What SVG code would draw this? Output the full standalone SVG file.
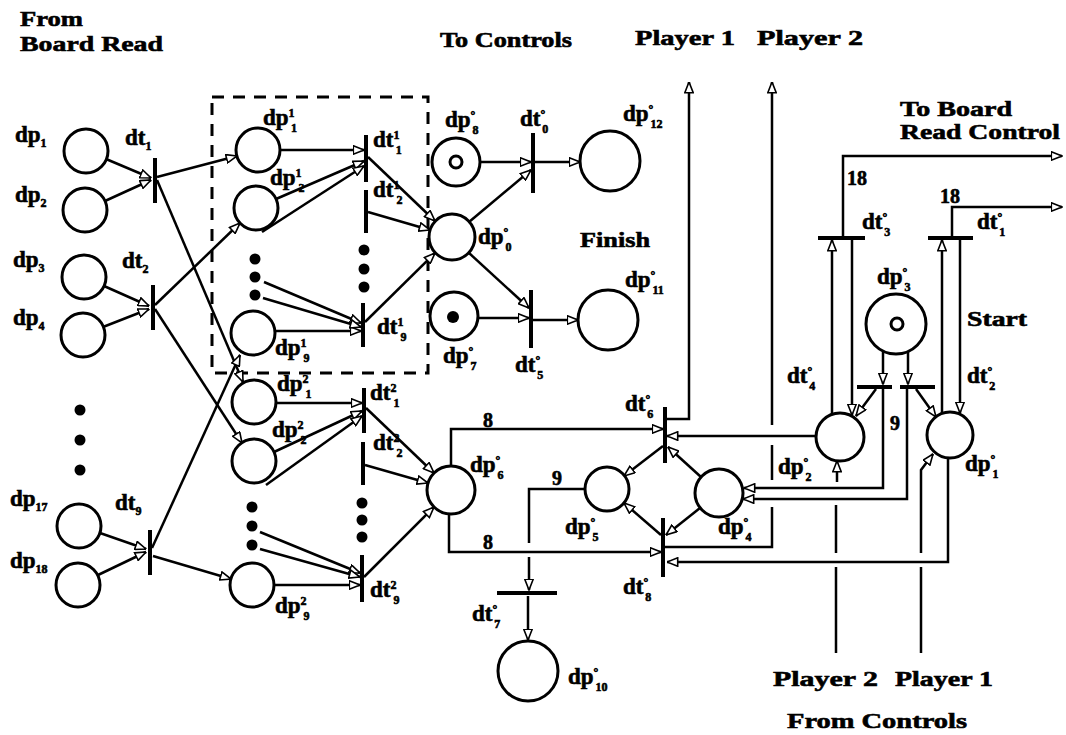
<svg xmlns="http://www.w3.org/2000/svg" width="1066" height="735" viewBox="0 0 1066 735">
<defs>
<marker id="ah" viewBox="0 0 12 10" refX="11.5" refY="5" markerWidth="12" markerHeight="10" markerUnits="userSpaceOnUse" orient="auto"><path d="M0.8,0.8 L11.5,5 L0.8,9.2 z" fill="#fff" stroke="#000" stroke-width="1.6"/></marker>
<style>
.t{font-family:"Liberation Serif","DejaVu Serif",serif;font-weight:bold;fill:#000;stroke:#000;stroke-width:0.6}
.l{font-size:23px}
.big{font-size:22px}
.s{font-size:12px}
.w{font-size:20px}
.p{fill:#fff;stroke:#000;stroke-width:3}
.b{fill:#000}
.d{fill:#000}
.c{fill:none;stroke:#000;stroke-width:2.5}
.a{marker-end:url(#ah)}
</style>
</defs>
<rect width="1066" height="735" fill="#fff"/>

<g id="titles" class="t big">
<text x="20" y="26" textLength="63" lengthAdjust="spacingAndGlyphs">From</text>
<text x="20" y="51" textLength="143" lengthAdjust="spacingAndGlyphs">Board Read</text>
<text x="440" y="47" textLength="132" lengthAdjust="spacingAndGlyphs">To Controls</text>
<text x="635" y="45" textLength="100" lengthAdjust="spacingAndGlyphs">Player 1</text>
<text x="757" y="45" textLength="106" lengthAdjust="spacingAndGlyphs">Player 2</text>
<text x="900" y="116" textLength="112" lengthAdjust="spacingAndGlyphs">To Board</text>
<text x="900" y="139" textLength="160" lengthAdjust="spacingAndGlyphs">Read Control</text>
<text x="580" y="247" textLength="70" lengthAdjust="spacingAndGlyphs">Finish</text>
<text x="967" y="326" textLength="60" lengthAdjust="spacingAndGlyphs">Start</text>
<text x="773" y="686" textLength="105" lengthAdjust="spacingAndGlyphs">Player 2</text>
<text x="895" y="686" textLength="98" lengthAdjust="spacingAndGlyphs">Player 1</text>
<text x="787" y="728" textLength="180" lengthAdjust="spacingAndGlyphs">From Controls</text>
</g>

<rect id="subnet-box" x="212" y="97" width="216" height="276" fill="none" stroke="#000" stroke-width="3" stroke-dasharray="12 9"/>

<g id="connectors" class="c">
<path class="a" d="M106,159 L151,178"/>
<path class="a" d="M105,201 L151,180"/>
<path class="a" d="M157,177 L237,156"/>
<path class="a" d="M157,180 L243,382"/>
<path class="a" d="M104,286 L149,306"/>
<path class="a" d="M103,327 L149,309"/>
<path class="a" d="M155,305 L240,223"/>
<path class="a" d="M155,309 L242,443"/>
<path class="a" d="M100,533 L146,549"/>
<path class="a" d="M98,575 L146,552"/>
<path class="a" d="M152,548 L240,355"/>
<path class="a" d="M153,556 L231,579"/>

<path class="a" d="M280,150 L364,150"/>
<path class="a" d="M276,199 L364,161"/>
<path class="a" d="M262,232 L364,166"/>
<path class="a" d="M275,331 L361,331"/>
<path class="a" d="M264,282 L361,323"/>
<path class="a" d="M263,298 L361,327"/>
<path class="a" d="M368,157 L435,221"/>
<path class="a" d="M368,212 L430,230"/>
<path class="a" d="M365,322 L435,253"/>

<path class="a" d="M480,162 L531,162"/>
<path class="a" d="M469,222 L531,170"/>
<path class="a" d="M535,162 L580,162"/>
<path class="a" d="M469,253 L529,308"/>
<path class="a" d="M478,318 L529,318"/>
<path class="a" d="M533,320 L578,320"/>

<path class="a" d="M276,403 L362,403"/>
<path class="a" d="M274,452 L362,411"/>
<path class="a" d="M266,485 L362,416"/>
<path class="a" d="M274,585 L360,585"/>
<path class="a" d="M260,532 L360,573"/>
<path class="a" d="M260,549 L360,577"/>
<path class="a" d="M366,408 L434,473"/>
<path class="a" d="M365,465 L428,483"/>
<path class="a" d="M364,577 L434,507"/>

<path class="a" d="M451,466 V429 H663"/>
<path class="a" d="M449,514 V552 H661"/>
<path class="a" d="M816,436 H667"/>
<path class="a" d="M701,477 L668,447"/>
<path class="a" d="M663,446 L624,476"/>
<path class="a" d="M700,508 L666,535"/>
<path class="a" d="M661,535 L624,503"/>
<path class="a" d="M665,419 H689 V82"/>
<path class="a" d="M665,547 H772 V507 M772,480 V445 M772,425 V82"/>
<path class="a" d="M948,458 V562 H667"/>
<path class="a" d="M836,653 V567 M836,553 V505 M837,482 V461"/>
<path class="a" d="M921,653 V567 M921,553 V470 L933,454"/>
<path class="a" d="M585,489 H529 V543 M529,557 V590"/>
<path class="a" d="M528,596 V640"/>
<path class="a" d="M883,388 V488 H744"/>
<path class="a" d="M907,388 V499 H743"/>
<path class="a" d="M883,352 V384"/>
<path class="a" d="M908,352 V384"/>
<path class="a" d="M876,389 L856,416"/>
<path class="a" d="M916,389 L936,417"/>
<path class="a" d="M832,414 V240"/>
<path class="a" d="M852,240 V415"/>
<path class="a" d="M942,413 V240"/>
<path class="a" d="M960,240 V413"/>
<path class="a" d="M843,236 V156 H1062"/>
<path class="a" d="M952,236 V207 H1062"/>
</g>

<g id="arc-weights" class="t w">
<text x="847" y="185">18</text>
<text x="940" y="203">18</text>
<text x="890" y="430">9</text>
<text x="552" y="485">9</text>
<text x="483" y="427">8</text>
<text x="483" y="549">8</text>
</g>

<g id="dp1"><circle class="p" cx="86" cy="151" r="22"/><text class="t l" x="15" y="142">dp<tspan class="s" dy="5">1</tspan></text></g>
<g id="dp2"><circle class="p" cx="85" cy="210" r="22"/><text class="t l" x="15" y="202">dp<tspan class="s" dy="5">2</tspan></text></g>
<g id="dp3"><circle class="p" cx="84" cy="277" r="22"/><text class="t l" x="13" y="267">dp<tspan class="s" dy="5">3</tspan></text></g>
<g id="dp4"><circle class="p" cx="83" cy="335" r="22"/><text class="t l" x="13" y="325">dp<tspan class="s" dy="5">4</tspan></text></g>
<g id="dp-dots"><circle class="d" cx="80" cy="410" r="5.5"/><circle class="d" cx="80" cy="440" r="5.5"/><circle class="d" cx="80" cy="470" r="5.5"/></g>
<g id="dp17"><circle class="p" cx="79" cy="526" r="22"/><text class="t l" x="10" y="506">dp<tspan class="s" dy="5">17</tspan></text></g>
<g id="dp18"><circle class="p" cx="78" cy="585" r="22"/><text class="t l" x="10" y="568">dp<tspan class="s" dy="5">18</tspan></text></g>

<g id="dt1"><rect class="b" x="153" y="158" width="4" height="45"/><text class="t l" x="125" y="145">dt<tspan class="s" dy="5">1</tspan></text></g>
<g id="dt2"><rect class="b" x="151" y="285" width="4" height="45"/><text class="t l" x="122" y="268">dt<tspan class="s" dy="5">2</tspan></text></g>
<g id="dt9"><rect class="b" x="148" y="530" width="4" height="45"/><text class="t l" x="115" y="510">dt<tspan class="s" dy="5">9</tspan></text></g>

<g id="dp1_1"><circle class="p" cx="258" cy="150" r="22"/><text class="t l" x="263" y="125">dp<tspan class="s" dy="-8">1</tspan><tspan class="s" dx="-3" dy="15">1</tspan></text></g>
<g id="dp1_2"><circle class="p" cx="256" cy="208" r="22"/><text class="t l" x="270" y="185">dp<tspan class="s" dy="-8">1</tspan><tspan class="s" dx="-3" dy="15">2</tspan></text></g>
<g id="dp1-dots"><circle class="d" cx="255" cy="259" r="5.5"/><circle class="d" cx="255" cy="277" r="5.5"/><circle class="d" cx="255" cy="295" r="5.5"/></g>
<g id="dp1_9"><circle class="p" cx="253" cy="333" r="22"/><text class="t l" x="275" y="355">dp<tspan class="s" dy="-8">1</tspan><tspan class="s" dx="-3" dy="15">9</tspan></text></g>
<g id="dp2_1"><circle class="p" cx="254" cy="402" r="22"/><text class="t l" x="277" y="391">dp<tspan class="s" dy="-8">2</tspan><tspan class="s" dx="-3" dy="15">1</tspan></text></g>
<g id="dp2_2"><circle class="p" cx="254" cy="461" r="22"/><text class="t l" x="272" y="437">dp<tspan class="s" dy="-8">2</tspan><tspan class="s" dx="-3" dy="15">2</tspan></text></g>
<g id="dp2-dots"><circle class="d" cx="252" cy="507" r="5.5"/><circle class="d" cx="252" cy="526" r="5.5"/><circle class="d" cx="252" cy="545" r="5.5"/></g>
<g id="dp2_9"><circle class="p" cx="252" cy="585" r="22"/><text class="t l" x="275" y="613">dp<tspan class="s" dy="-8">2</tspan><tspan class="s" dx="-3" dy="15">9</tspan></text></g>

<g id="dt1_1"><rect class="b" x="364" y="135" width="4" height="47"/><text class="t l" x="373" y="147">dt<tspan class="s" dy="-8">1</tspan><tspan class="s" dx="-3" dy="15">1</tspan></text></g>
<g id="dt1_2"><rect class="b" x="364" y="190" width="4" height="43"/><text class="t l" x="373" y="197">dt<tspan class="s" dy="-8">1</tspan><tspan class="s" dx="-3" dy="15">2</tspan></text></g>
<g id="dt1-dots"><circle class="d" cx="364" cy="250" r="5.5"/><circle class="d" cx="364" cy="269" r="5.5"/><circle class="d" cx="364" cy="287" r="5.5"/></g>
<g id="dt1_9"><rect class="b" x="361" y="303" width="4" height="44"/><text class="t l" x="377" y="334">dt<tspan class="s" dy="-8">1</tspan><tspan class="s" dx="-3" dy="15">9</tspan></text></g>
<g id="dt2_1"><rect class="b" x="362" y="388" width="4" height="45"/><text class="t l" x="370" y="400">dt<tspan class="s" dy="-8">2</tspan><tspan class="s" dx="-3" dy="15">1</tspan></text></g>
<g id="dt2_2"><rect class="b" x="361" y="442" width="4" height="43"/><text class="t l" x="373" y="450">dt<tspan class="s" dy="-8">2</tspan><tspan class="s" dx="-3" dy="15">2</tspan></text></g>
<g id="dt2-dots"><circle class="d" cx="362" cy="503" r="5.5"/><circle class="d" cx="362" cy="520" r="5.5"/><circle class="d" cx="362" cy="537" r="5.5"/></g>
<g id="dt2_9"><rect class="b" x="360" y="555" width="4" height="47"/><text class="t l" x="370" y="597">dt<tspan class="s" dy="-8">2</tspan><tspan class="s" dx="-3" dy="15">9</tspan></text></g>

<g id="dp0_8"><circle class="p" cx="456" cy="162" r="24"/><circle cx="456" cy="162" r="6" fill="none" stroke="#000" stroke-width="3"/><text class="t l" x="445" y="127">dp<tspan class="s" dy="-8">°</tspan><tspan class="s" dx="-3" dy="15">8</tspan></text></g>
<g id="dp0_0"><circle class="p" cx="452" cy="237" r="23"/><text class="t l" x="478" y="244">dp<tspan class="s" dy="-8">°</tspan><tspan class="s" dx="-3" dy="15">0</tspan></text></g>
<g id="dp0_7"><circle class="p" cx="454" cy="316" r="24"/><circle class="d" cx="453" cy="317" r="6"/><text class="t l" x="443" y="363">dp<tspan class="s" dy="-8">°</tspan><tspan class="s" dx="-3" dy="15">7</tspan></text></g>
<g id="dt0_0"><rect class="b" x="531" y="133" width="4" height="60"/><text class="t l" x="520" y="126">dt<tspan class="s" dy="-8">°</tspan><tspan class="s" dx="-3" dy="15">0</tspan></text></g>
<g id="dt0_5"><rect class="b" x="529" y="290" width="4" height="58"/><text class="t l" x="515" y="372">dt<tspan class="s" dy="-8">°</tspan><tspan class="s" dx="-3" dy="15">5</tspan></text></g>
<g id="dp0_12"><circle class="p" cx="610" cy="161" r="30"/><text class="t l" x="623" y="121">dp<tspan class="s" dy="-8">°</tspan><tspan class="s" dx="-3" dy="15">12</tspan></text></g>
<g id="dp0_11"><circle class="p" cx="608" cy="320" r="30"/><text class="t l" x="625" y="287">dp<tspan class="s" dy="-8">°</tspan><tspan class="s" dx="-3" dy="15">11</tspan></text></g>

<g id="dp0_6"><circle class="p" cx="451" cy="490" r="24"/><text class="t l" x="470" y="472">dp<tspan class="s" dy="-8">°</tspan><tspan class="s" dx="-3" dy="15">6</tspan></text></g>
<g id="dp0_5"><circle class="p" cx="607" cy="489" r="22"/><text class="t l" x="565" y="534">dp<tspan class="s" dy="-8">°</tspan><tspan class="s" dx="-3" dy="15">5</tspan></text></g>
<g id="dp0_4"><circle class="p" cx="719" cy="493" r="24"/><text class="t l" x="718" y="534">dp<tspan class="s" dy="-8">°</tspan><tspan class="s" dx="-3" dy="15">4</tspan></text></g>
<g id="dp0_10"><circle class="p" cx="528" cy="671" r="30"/><text class="t l" x="568" y="684">dp<tspan class="s" dy="-8">°</tspan><tspan class="s" dx="-3" dy="15">10</tspan></text></g>
<g id="dt0_6"><rect class="b" x="663" y="407" width="4" height="56"/><text class="t l" x="625" y="411">dt<tspan class="s" dy="-8">°</tspan><tspan class="s" dx="-3" dy="15">6</tspan></text></g>
<g id="dt0_8"><rect class="b" x="661" y="518" width="4" height="59"/><text class="t l" x="623" y="594">dt<tspan class="s" dy="-8">°</tspan><tspan class="s" dx="-3" dy="15">8</tspan></text></g>
<g id="dt0_7"><rect class="b" x="497" y="591" width="60" height="4"/><text class="t l" x="472" y="621">dt<tspan class="s" dy="-8">°</tspan><tspan class="s" dx="-3" dy="15">7</tspan></text></g>

<g id="dp0_3"><circle class="p" cx="896" cy="324" r="30"/><circle cx="897" cy="324" r="6" fill="none" stroke="#000" stroke-width="3"/><text class="t l" x="877" y="284">dp<tspan class="s" dy="-8">°</tspan><tspan class="s" dx="-3" dy="15">3</tspan></text></g>
<g id="dp0_2"><circle class="p" cx="840" cy="437" r="24"/><text class="t l" x="778" y="474">dp<tspan class="s" dy="-8">°</tspan><tspan class="s" dx="-3" dy="15">2</tspan></text></g>
<g id="dp0_1"><circle class="p" cx="950" cy="435" r="23"/><text class="t l" x="965" y="471">dp<tspan class="s" dy="-8">°</tspan><tspan class="s" dx="-3" dy="15">1</tspan></text></g>
<g id="dt0_3"><rect class="b" x="818" y="236" width="47" height="4"/><text class="t l" x="862" y="229">dt<tspan class="s" dy="-8">°</tspan><tspan class="s" dx="-3" dy="15">3</tspan></text></g>
<g id="dt0_1"><rect class="b" x="928" y="236" width="45" height="4"/><text class="t l" x="977" y="229">dt<tspan class="s" dy="-8">°</tspan><tspan class="s" dx="-3" dy="15">1</tspan></text></g>
<g id="dt0_4"><rect class="b" x="857" y="385" width="35" height="4"/><text class="t l" x="787" y="383">dt<tspan class="s" dy="-8">°</tspan><tspan class="s" dx="-3" dy="15">4</tspan></text></g>
<g id="dt0_2"><rect class="b" x="900" y="385" width="35" height="4"/><text class="t l" x="967" y="383">dt<tspan class="s" dy="-8">°</tspan><tspan class="s" dx="-3" dy="15">2</tspan></text></g>
</svg>
